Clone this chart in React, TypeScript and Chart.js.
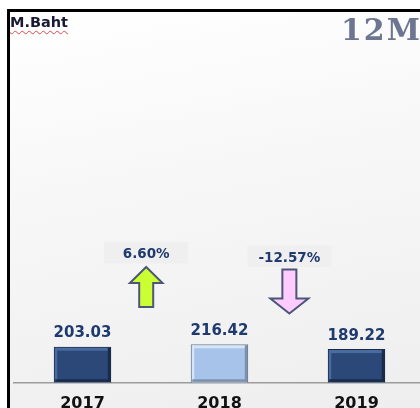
import React, { useEffect, useRef } from "react";
import { Chart, registerables } from "chart.js";

Chart.register(...registerables);

const categories = ["2017", "2018", "2019"];
const values = [203.03, 216.42, 189.22];
const valueLabels = ["203.03", "216.42", "189.22"];
const changeLabels = ["6.60%", "-12.57%"];
const changeDirections = ["up", "down"];
const yMax = 2150;

const barFill = ["#2b4878", "#a7c3ea", "#2b4878"];
const barBorder = ["#1b2b46", "#6f7f96", "#1b2b46"];
const barLight = ["#4a6ba0", "#d6e6fa", "#4a6ba0"];
const barDark = ["#1a2c4a", "#7d90ad", "#1a2c4a"];

const FONT = "'DejaVu Sans', Verdana, sans-serif";

const overlayPlugin = {
  id: "overlay",
  afterDatasetsDraw(chart: any) {
    const ctx = chart.ctx;
    const meta = chart.getDatasetMeta(0);
    const xs = chart.scales.x;
    ctx.save();
    // bevel + value labels
    meta.data.forEach((bar: any, i: number) => {
      const { x, y, base, width } = bar.getProps(["x", "y", "base", "width"], true);
      const l = x - width / 2;
      const r = x + width / 2;
      ctx.fillStyle = barLight[i];
      ctx.fillRect(l + 1.5, y + 1, width - 3, 3);
      ctx.fillRect(l + 1, y + 1, 2.5, base - y - 2);
      ctx.fillStyle = barDark[i];
      ctx.fillRect(r - 3.5, y + 1, 2.5, base - y - 2);
      ctx.fillRect(l + 1.5, base - 3.5, width - 3, 2.5);
      ctx.fillStyle = "#1f3a6e";
      ctx.font = `bold 15px ${FONT}`;
      ctx.textAlign = "center";
      ctx.textBaseline = "alphabetic";
      ctx.fillText(valueLabels[i], x, y - 9.5);
    });
    // change boxes and arrows between categories
    const p0 = xs.getPixelForValue(0);
    const p1 = xs.getPixelForValue(1);
    const p2 = xs.getPixelForValue(2);
    const centers = [p0 + (p1 - p0) * 0.465, p1 + (p2 - p1) * 0.51];
    const boxTops = [242, 245.5];
    changeLabels.forEach((label, i) => {
      const cx = centers[i];
      ctx.fillStyle = "#efefef";
      ctx.fillRect(cx - 42, boxTops[i], 84, 21.5);
      ctx.fillStyle = "#1f3a6e";
      ctx.font = `bold 13.5px ${FONT}`;
      ctx.textAlign = "center";
      ctx.textBaseline = "middle";
      ctx.fillText(label, cx, boxTops[i] + 12.5);
      ctx.beginPath();
      if (changeDirections[i] === "up") {
        ctx.moveTo(cx, 267);
        ctx.lineTo(cx + 16.3, 283);
        ctx.lineTo(cx + 7, 283);
        ctx.lineTo(cx + 7, 307);
        ctx.lineTo(cx - 7, 307);
        ctx.lineTo(cx - 7, 283);
        ctx.lineTo(cx - 16.3, 283);
        ctx.closePath();
        ctx.fillStyle = "#ccff33";
      } else {
        ctx.moveTo(cx - 7, 269.5);
        ctx.lineTo(cx + 7, 269.5);
        ctx.lineTo(cx + 7, 298.5);
        ctx.lineTo(cx + 19, 298.5);
        ctx.lineTo(cx, 313.5);
        ctx.lineTo(cx - 19, 298.5);
        ctx.lineTo(cx - 7, 298.5);
        ctx.closePath();
        ctx.fillStyle = "#ffccff";
      }
      ctx.fill();
      ctx.lineWidth = 2;
      ctx.lineJoin = "miter";
      ctx.strokeStyle = "#4b5679";
      ctx.stroke();
    });
    ctx.restore();
  },
};

export default function App() {
  const ref = useRef<HTMLCanvasElement>(null);
  useEffect(() => {
    if (!ref.current) return;
    const chart = new Chart(ref.current, {
      type: "bar",
      data: {
        labels: categories,
        datasets: [
          {
            data: values,
            backgroundColor: barFill,
            borderColor: barBorder,
            borderWidth: 1.5,
            barPercentage: 0.42,
            categoryPercentage: 1,
          },
        ],
      },
      options: {
        animation: false,
        responsive: false,
        devicePixelRatio: 1,
        layout: { padding: { left: 14, right: 15, top: 0, bottom: 0 } },
        plugins: { legend: { display: false }, tooltip: { enabled: false }, title: { display: false } },
        scales: {
          x: {
            grid: { display: false, drawTicks: false },
            border: { display: true, color: "#9c9c9c", width: 1.5 },
            ticks: { color: "#111111", padding: 11, font: { family: FONT, size: 16, weight: "bold" } },
          },
          y: { display: false, min: 0, max: yMax },
        },
      },
      plugins: [overlayPlugin],
    });
    return () => chart.destroy();
  }, []);

  return (
    <div style={{ position: "fixed", left: 0, top: 0, width: 420, height: 408, overflow: "hidden", background: "#ffffff" }}>
      <div
        style={{
          position: "absolute",
          left: 7,
          top: 9,
          width: 440,
          height: 420,
          borderTop: "3px solid #000",
          borderLeft: "3px solid #000",
          background: "linear-gradient(170deg, #ffffff 0%, #f7f7f7 40%, #ededed 100%)",
        }}
      />
      <canvas ref={ref} width={440} height={424} style={{ position: "absolute", left: 0, top: 0, width: 440, height: 424 }} />
      <div
        style={{
          position: "absolute",
          left: 10,
          top: 15,
          font: `bold 14.5px ${FONT}`,
          lineHeight: "14.5px",
          color: "#1a1a33",
          textDecoration: "underline wavy #e04848",
          textDecorationThickness: "1px",
          textUnderlineOffset: "3px",
          whiteSpace: "nowrap",
        }}
      >
        M.Baht
      </div>
      <div
        style={{
          position: "absolute",
          left: 341,
          top: 14.5,
          font: "bold 30px 'DejaVu Serif', serif",
          lineHeight: "30px",
          letterSpacing: "2px",
          color: "#6d7591",
          whiteSpace: "nowrap",
        }}
      >
        12M
      </div>
    </div>
  );
}
